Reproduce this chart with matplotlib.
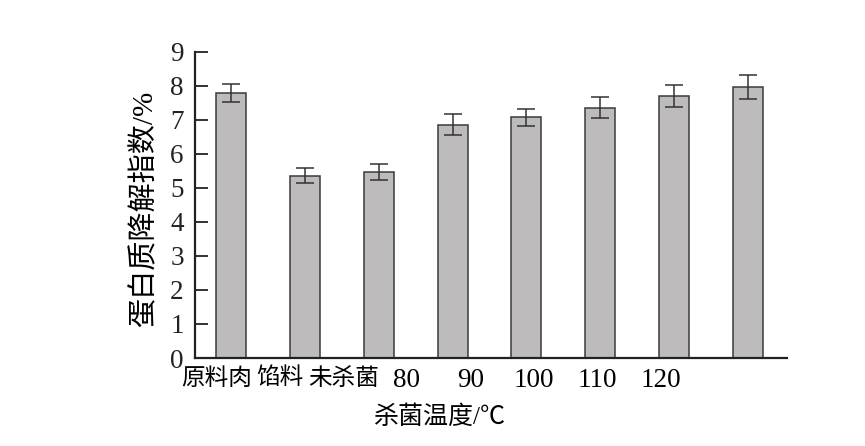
import matplotlib
matplotlib.use("Agg")
import matplotlib.pyplot as plt
import numpy as np

categories = ["原料肉", "馅料", "未杀菌", "80", "90", "100", "110", "120"]
values = [7.78, 5.36, 5.46, 6.86, 7.07, 7.36, 7.70, 7.97]
errors = [0.26, 0.22, 0.23, 0.30, 0.26, 0.32, 0.31, 0.36]
yticks = [0, 1, 2, 3, 4, 5, 6, 7, 8, 9]

fam = ["Liberation Serif", "Noto Sans CJK SC"]
plt.rcParams["font.family"] = fam

fig = plt.figure(figsize=(8.65, 4.46), dpi=100)
ax = fig.add_axes([0.2254, 0.1973, 0.6844, 0.6867])

x = np.arange(len(categories))
ax.bar(x, values, width=0.405, color="#bdbbbc", edgecolor="#3a3a3a", linewidth=1.1, zorder=2)
ax.errorbar(x, values, yerr=errors, fmt="none", ecolor="#333333", elinewidth=1.1,
            capsize=6.5, capthick=1.1, zorder=3)

ax.set_xlim(-0.49, 7.53)
ax.set_ylim(0, 9)
ax.set_yticks(yticks)
ax.set_yticklabels([str(t) for t in yticks], fontsize=19.5, family=fam)

label_pos = -0.2 + 0.86 * x
ax.set_xticks(label_pos)
ax.set_xticklabels(categories, fontsize=17, family=fam)
for lab in ax.get_xticklabels():
    if lab.get_text().isdigit():
        lab.set_fontsize(19.5)
ax.tick_params(axis="x", length=0, pad=7)
ax.tick_params(axis="y", direction="in", length=9, width=1.3, pad=8, colors="#222222")

for s in ["top", "right"]:
    ax.spines[s].set_visible(False)
for s in ["left", "bottom"]:
    ax.spines[s].set_linewidth(1.6)
    ax.spines[s].set_color("#222222")

ax.set_ylabel("蛋白质降解指数/%", fontsize=21, family=fam)
ax.yaxis.set_label_coords(-0.062, 0.49)
ax.set_xlabel("杀菌温度/℃", fontsize=18, family=fam)
ax.xaxis.set_label_coords(0.414, -0.155)

fig.savefig("out.png", dpi=100)
